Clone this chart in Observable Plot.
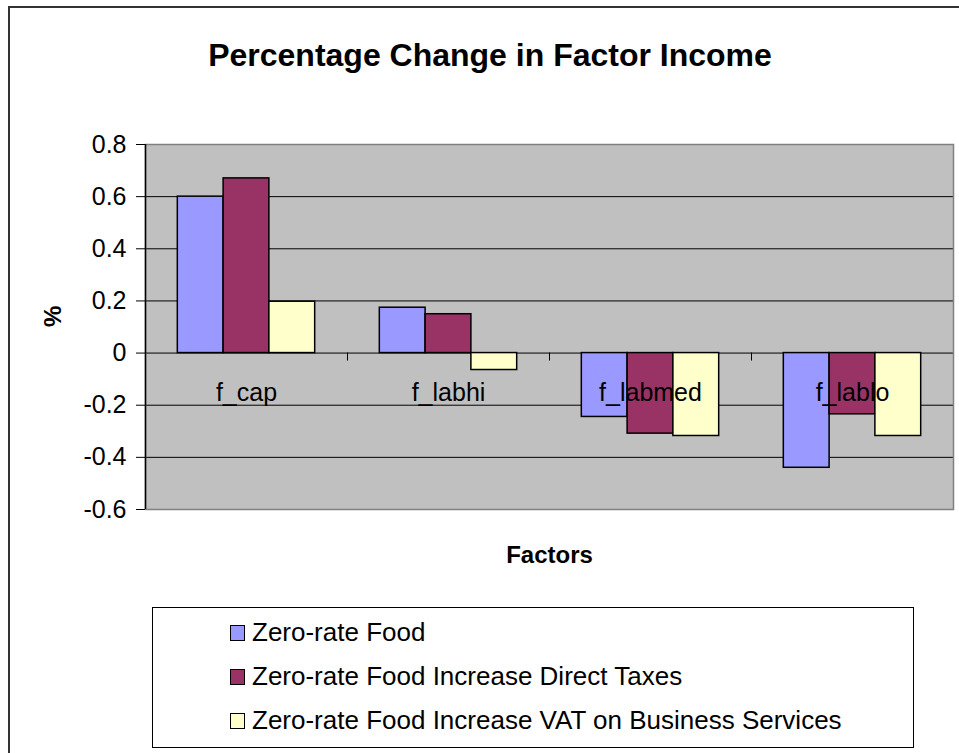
<!DOCTYPE html>
<html><head><meta charset="utf-8">
<script src="https://cdn.jsdelivr.net/npm/d3@7"></script>
<script src="https://cdn.jsdelivr.net/npm/@observablehq/plot@0.6"></script>
<style>
body{margin:0;background:#fff;font-family:"Liberation Sans",Arial,sans-serif;}
#wrap{position:relative;width:959px;height:753px;overflow:hidden;background:#fff;}
#outer{position:absolute;left:8px;top:6px;width:1000px;height:1000px;border:2px solid #333;box-sizing:border-box;}
#title{position:absolute;left:0;top:35px;width:980px;text-align:center;font-size:32px;font-weight:bold;line-height:40px;color:#000;}
#chart{position:absolute;left:0;top:0;}
#legend{position:absolute;left:152px;top:607px;width:762px;height:141px;border:1px solid #000;box-sizing:border-box;background:#fff;}
.row{position:absolute;left:0;height:30px;}
.sw{position:absolute;left:77px;top:8px;width:15px;height:16px;border:1.5px solid #000;box-sizing:border-box;}
.lt{position:absolute;left:99px;top:0;font-size:26px;line-height:30px;white-space:nowrap;color:#000;}
</style></head><body>
<div id="wrap">
  <div id="outer"></div>
  <div id="title">Percentage Change in Factor Income</div>
  <div id="chart"></div>
  <div id="legend"></div>
</div>
<script>
const categories = ["f_cap", "f_labhi", "f_labmed", "f_lablo"];
const seriesNames = ["Zero-rate Food", "Zero-rate Food Increase Direct Taxes", "Zero-rate Food Increase VAT on Business Services"];
const seriesColors = ["#9999FF", "#993366", "#FFFFCC"];
const zeroRateFood = [0.60, 0.174, -0.245, -0.44];
const zeroRateFoodDirectTaxes = [0.67, 0.149, -0.309, -0.235];
const zeroRateFoodVATBusiness = [0.197, -0.065, -0.318, -0.318];
const yTicks = [-0.6, -0.4, -0.2, 0, 0.2, 0.4, 0.6, 0.8];
const xLabel = "Factors";
const yLabel = "%";

const seriesValues = [zeroRateFood, zeroRateFoodDirectTaxes, zeroRateFoodVATBusiness];
const groupWidth = 0.68;
const barW = groupWidth / seriesNames.length;
const rows = [];
categories.forEach((c, ci) => {
  seriesValues.forEach((vals, si) => {
    rows.push({category: c, ci, si, series: seriesNames[si], value: vals[ci],
      x1: ci + (1 - groupWidth) / 2 + si * barW,
      x2: ci + (1 - groupWidth) / 2 + (si + 1) * barW});
  });
});
const gridTicks = yTicks.filter(t => t > yTicks[0] && t < yTicks[yTicks.length - 1]);
const boundaries = categories.map((c, i) => i + 1);
const fmt = d => String(Math.round(d * 10) / 10);

const chart = Plot.plot({
  width: 959, height: 600,
  marginLeft: 145, marginRight: 6, marginTop: 144, marginBottom: 91,
  style: {fontFamily: '"Liberation Sans", Arial, sans-serif', background: "transparent", color: "#000", overflow: "visible"},
  x: {domain: [0, categories.length], axis: null},
  y: {domain: [yTicks[0], yTicks[yTicks.length - 1]], axis: null},
  color: {domain: seriesNames, range: seriesColors},
  marks: [
    Plot.frame({fill: "#C0C0C0", stroke: null}),
    Plot.ruleY(gridTicks, {stroke: "#000", strokeWidth: 1}),
    Plot.rectY(rows, {x1: "x1", x2: "x2", y1: () => 0, y2: "value", fill: "series", stroke: "#000", strokeWidth: 1.5}),
    Plot.ruleX(boundaries, {y1: () => 0, y2: () => 0, insetBottom: -8, stroke: "#000", strokeWidth: 1}),
    Plot.text(categories, {x: (d, i) => i + 0.5, y: () => 0, dy: 40, text: d => d, fontSize: 25, fill: "#000", lineAnchor: "middle"}),
    Plot.frame({stroke: "#808080", strokeWidth: 1.5, fill: null}),
    Plot.ruleX([0], {stroke: "#000", strokeWidth: 1.5}),
    Plot.axisY({ticks: yTicks, tickSize: 9, tickPadding: 10, fontSize: 25, tickFormat: fmt, label: null}),
    Plot.text([yLabel], {frameAnchor: "left", rotate: -90, dx: -92, fontSize: 24, fontWeight: "bold", lineAnchor: "middle", fill: "#000"}),
    Plot.text([xLabel], {frameAnchor: "bottom", dy: 46, fontSize: 24, fontWeight: "bold", lineAnchor: "middle", fill: "#000"})
  ]
});
document.getElementById("chart").appendChild(chart);

const legend = document.getElementById("legend");
seriesNames.forEach((name, i) => {
  const r = document.createElement("div");
  r.className = "row";
  r.style.top = (9 + i * 44) + "px";
  const sw = document.createElement("div");
  sw.className = "sw";
  sw.style.background = seriesColors[i];
  const t = document.createElement("div");
  t.className = "lt";
  t.textContent = name;
  r.appendChild(sw); r.appendChild(t);
  legend.appendChild(r);
});
</script>
</body></html>
